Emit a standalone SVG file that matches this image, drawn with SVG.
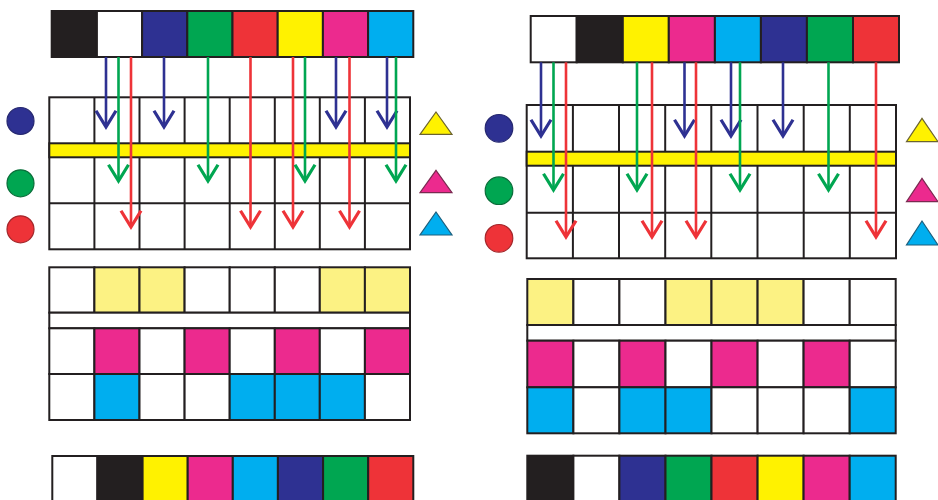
<svg xmlns="http://www.w3.org/2000/svg" width="938" height="500" viewBox="0 0 938 500">
<style>
rect,line.g{stroke:#231f20;stroke-width:2}
.k{fill:#231f20}.w{fill:#ffffff}.b{fill:#2e3192}.gr{fill:#00a651}.r{fill:#ee3338}.y{fill:#fff200}.m{fill:#ec2a8e}.c{fill:#00aeef}.ly{fill:#fcf283}
.ab{stroke:#2e3192}.ag{stroke:#00a651}.ar{stroke:#ee3338}
.arr line{stroke-width:2.6;fill:none}
</style>
<defs>
<marker id="mb" markerUnits="userSpaceOnUse" markerWidth="30" markerHeight="30" refX="0" refY="0" orient="auto" viewBox="-16 -12 20 24" overflow="visible"><path d="M-13,-8 L0,0 L-13,8" fill="none" stroke="#2e3192" stroke-width="2.6"/></marker>
<marker id="mg" markerUnits="userSpaceOnUse" markerWidth="30" markerHeight="30" refX="0" refY="0" orient="auto" viewBox="-16 -12 20 24" overflow="visible"><path d="M-13,-8 L0,0 L-13,8" fill="none" stroke="#00a651" stroke-width="2.6"/></marker>
<marker id="mr" markerUnits="userSpaceOnUse" markerWidth="30" markerHeight="30" refX="0" refY="0" orient="auto" viewBox="-16 -12 20 24" overflow="visible"><path d="M-13,-8 L0,0 L-13,8" fill="none" stroke="#ee3338" stroke-width="2.6"/></marker>
</defs>
<rect x="0" y="0" width="938" height="500" fill="#ffffff" style="stroke:none"/>

<!-- LEFT PANEL -->
<g id="left-top-strip">
<rect class="k" x="51.7" y="11" width="45.2" height="46"/>
<rect class="w" x="96.9" y="11" width="45.2" height="46"/>
<rect class="b" x="142.1" y="11" width="45.2" height="46"/>
<rect class="gr" x="187.3" y="11" width="45.2" height="46"/>
<rect class="r" x="232.5" y="11" width="45.2" height="46"/>
<rect class="y" x="277.7" y="11" width="45.2" height="46"/>
<rect class="m" x="322.9" y="11" width="45.2" height="46"/>
<rect class="c" x="368.1" y="11" width="45.2" height="46"/>
</g>
<g id="left-grid">
<rect class="w" x="49.3" y="97.3" width="360.7" height="152"/>
<rect class="y" x="49.3" y="143.3" width="360.7" height="14"/>
<line class="g" x1="49.3" y1="203.3" x2="410" y2="203.3"/>
<g>
<line class="g" x1="94.4" y1="97.3" x2="94.4" y2="143.3"/><line class="g" x1="139.5" y1="97.3" x2="139.5" y2="143.3"/><line class="g" x1="184.6" y1="97.3" x2="184.6" y2="143.3"/><line class="g" x1="229.7" y1="97.3" x2="229.7" y2="143.3"/><line class="g" x1="274.8" y1="97.3" x2="274.8" y2="143.3"/><line class="g" x1="319.8" y1="97.3" x2="319.8" y2="143.3"/><line class="g" x1="364.9" y1="97.3" x2="364.9" y2="143.3"/>
<line class="g" x1="94.4" y1="157.3" x2="94.4" y2="249.3"/><line class="g" x1="139.5" y1="157.3" x2="139.5" y2="249.3"/><line class="g" x1="184.6" y1="157.3" x2="184.6" y2="249.3"/><line class="g" x1="229.7" y1="157.3" x2="229.7" y2="249.3"/><line class="g" x1="274.8" y1="157.3" x2="274.8" y2="249.3"/><line class="g" x1="319.8" y1="157.3" x2="319.8" y2="249.3"/><line class="g" x1="364.9" y1="157.3" x2="364.9" y2="249.3"/>
</g>
</g>
<g id="left-circles">
<circle id="l-circle-blue" cx="20.5" cy="121" r="13.5" fill="#2e3192" stroke="#262870" stroke-width="1.2"/>
<circle id="l-circle-green" cx="20.5" cy="183.3" r="13.5" fill="#00a651" stroke="#0a6e3a" stroke-width="1.2"/>
<circle id="l-circle-red" cx="20.5" cy="229.3" r="13.5" fill="#ee3338" stroke="#a3262a" stroke-width="1.2"/>
</g>
<g id="left-triangles">
<polygon id="l-tri-yellow" points="436,112 452,134.3 420,134.3" fill="#fff200" stroke="#6b6330" stroke-width="1.2"/>
<polygon id="l-tri-magenta" points="436,170.3 452,192.7 420,192.7" fill="#ec2a8e" stroke="#7a2a50" stroke-width="1.2"/>
<polygon id="l-tri-cyan" points="436,212 452,235 420,235" fill="#00aeef" stroke="#1d5f7d" stroke-width="1.2"/>
</g>
<g id="left-middle-grid">
<rect class="w" x="49.3" y="267.3" width="45.1" height="45.4"/><rect class="ly" x="94.4" y="267.3" width="45.1" height="45.4"/><rect class="ly" x="139.5" y="267.3" width="45.1" height="45.4"/><rect class="w" x="184.6" y="267.3" width="45.1" height="45.4"/><rect class="w" x="229.7" y="267.3" width="45.1" height="45.4"/><rect class="w" x="274.8" y="267.3" width="45" height="45.4"/><rect class="ly" x="319.8" y="267.3" width="45.1" height="45.4"/><rect class="ly" x="364.9" y="267.3" width="45.1" height="45.4"/>
<rect class="w" x="49.3" y="312.7" width="360.7" height="15.6"/>
<rect class="w" x="49.3" y="328.3" width="45.1" height="45.7"/><rect class="m" x="94.4" y="328.3" width="45.1" height="45.7"/><rect class="w" x="139.5" y="328.3" width="45.1" height="45.7"/><rect class="m" x="184.6" y="328.3" width="45.1" height="45.7"/><rect class="w" x="229.7" y="328.3" width="45.1" height="45.7"/><rect class="m" x="274.8" y="328.3" width="45" height="45.7"/><rect class="w" x="319.8" y="328.3" width="45.1" height="45.7"/><rect class="m" x="364.9" y="328.3" width="45.1" height="45.7"/>
<rect class="w" x="49.3" y="374" width="45.1" height="46"/><rect class="c" x="94.4" y="374" width="45.1" height="46"/><rect class="w" x="139.5" y="374" width="45.1" height="46"/><rect class="w" x="184.6" y="374" width="45.1" height="46"/><rect class="c" x="229.7" y="374" width="45.1" height="46"/><rect class="c" x="274.8" y="374" width="45" height="46"/><rect class="c" x="319.8" y="374" width="45.1" height="46"/><rect class="w" x="364.9" y="374" width="45.1" height="46"/>
</g>
<g id="left-bottom-strip">
<rect class="w" x="52.3" y="456" width="45.1" height="50"/>
<rect class="k" x="97.4" y="456" width="45.2" height="50"/>
<rect class="y" x="142.6" y="456" width="45.1" height="50"/>
<rect class="m" x="187.7" y="456" width="45.1" height="50"/>
<rect class="c" x="232.8" y="456" width="45.1" height="50"/>
<rect class="b" x="277.9" y="456" width="45.2" height="50"/>
<rect class="gr" x="323.1" y="456" width="45.1" height="50"/>
<rect class="r" x="368.2" y="456" width="45.1" height="50"/>
</g>

<!-- RIGHT PANEL -->
<g id="right-top-strip">
<rect class="w" x="530.7" y="16" width="46" height="46.3"/>
<rect class="k" x="576.7" y="16" width="46.1" height="46.3"/>
<rect class="y" x="622.8" y="16" width="46" height="46.3"/>
<rect class="m" x="668.8" y="16" width="46.1" height="46.3"/>
<rect class="c" x="714.9" y="16" width="46" height="46.3"/>
<rect class="b" x="760.9" y="16" width="46" height="46.3"/>
<rect class="gr" x="806.9" y="16" width="46.1" height="46.3"/>
<rect class="r" x="853" y="16" width="46" height="46.3"/>
</g>
<g id="right-grid">
<rect class="w" x="526.7" y="105" width="369.3" height="153.3"/>
<rect class="y" x="526.7" y="151.7" width="369.3" height="14"/>
<line class="g" x1="526.7" y1="212.7" x2="896" y2="212.7"/>
<g>
<line class="g" x1="572.9" y1="105" x2="572.9" y2="151.7"/><line class="g" x1="619" y1="105" x2="619" y2="151.7"/><line class="g" x1="665.2" y1="105" x2="665.2" y2="151.7"/><line class="g" x1="711.3" y1="105" x2="711.3" y2="151.7"/><line class="g" x1="757.5" y1="105" x2="757.5" y2="151.7"/><line class="g" x1="803.7" y1="105" x2="803.7" y2="151.7"/><line class="g" x1="849.8" y1="105" x2="849.8" y2="151.7"/>
<line class="g" x1="572.9" y1="165.7" x2="572.9" y2="258.3"/><line class="g" x1="619" y1="165.7" x2="619" y2="258.3"/><line class="g" x1="665.2" y1="165.7" x2="665.2" y2="258.3"/><line class="g" x1="711.3" y1="165.7" x2="711.3" y2="258.3"/><line class="g" x1="757.5" y1="165.7" x2="757.5" y2="258.3"/><line class="g" x1="803.7" y1="165.7" x2="803.7" y2="258.3"/><line class="g" x1="849.8" y1="165.7" x2="849.8" y2="258.3"/>
</g>
</g>
<g id="right-circles">
<circle id="r-circle-blue" cx="499" cy="128.3" r="13.8" fill="#2e3192" stroke="#262870" stroke-width="1.2"/>
<circle id="r-circle-green" cx="499" cy="190.7" r="13.8" fill="#00a651" stroke="#0a6e3a" stroke-width="1.2"/>
<circle id="r-circle-red" cx="499" cy="238.3" r="13.8" fill="#ee3338" stroke="#a3262a" stroke-width="1.2"/>
</g>
<g id="right-triangles">
<polygon id="r-tri-yellow" points="922,118.3 938,141.7 906.5,141.7" fill="#fff200" stroke="#6b6330" stroke-width="1.2"/>
<polygon id="r-tri-magenta" points="922,178.3 938,201.7 906.5,201.7" fill="#ec2a8e" stroke="#7a2a50" stroke-width="1.2"/>
<polygon id="r-tri-cyan" points="922,221 938,245 906.5,245" fill="#00aeef" stroke="#1d5f7d" stroke-width="1.2"/>
</g>
<g id="right-middle-grid">
<rect class="ly" x="527.3" y="279" width="46.1" height="46"/><rect class="w" x="573.4" y="279" width="46" height="46"/><rect class="w" x="619.4" y="279" width="46.1" height="46"/><rect class="ly" x="665.5" y="279" width="46" height="46"/><rect class="ly" x="711.5" y="279" width="46.1" height="46"/><rect class="ly" x="757.6" y="279" width="46" height="46"/><rect class="w" x="803.6" y="279" width="46.1" height="46"/><rect class="w" x="849.7" y="279" width="46" height="46"/>
<rect class="w" x="527.3" y="325" width="368.4" height="15.7"/>
<rect class="m" x="527.3" y="340.7" width="46.1" height="46.6"/><rect class="w" x="573.4" y="340.7" width="46" height="46.6"/><rect class="m" x="619.4" y="340.7" width="46.1" height="46.6"/><rect class="w" x="665.5" y="340.7" width="46" height="46.6"/><rect class="m" x="711.5" y="340.7" width="46.1" height="46.6"/><rect class="w" x="757.6" y="340.7" width="46" height="46.6"/><rect class="m" x="803.6" y="340.7" width="46.1" height="46.6"/><rect class="w" x="849.7" y="340.7" width="46" height="46.6"/>
<rect class="c" x="527.3" y="387.3" width="46.1" height="46"/><rect class="w" x="573.4" y="387.3" width="46" height="46"/><rect class="c" x="619.4" y="387.3" width="46.1" height="46"/><rect class="c" x="665.5" y="387.3" width="46" height="46"/><rect class="w" x="711.5" y="387.3" width="46.1" height="46"/><rect class="w" x="757.6" y="387.3" width="46" height="46"/><rect class="w" x="803.6" y="387.3" width="46.1" height="46"/><rect class="c" x="849.7" y="387.3" width="46" height="46"/>
</g>
<g id="right-bottom-strip">
<rect class="k" x="527.3" y="455.7" width="46.1" height="50"/>
<rect class="w" x="573.4" y="455.7" width="46" height="50"/>
<rect class="b" x="619.4" y="455.7" width="46.1" height="50"/>
<rect class="gr" x="665.5" y="455.7" width="46" height="50"/>
<rect class="r" x="711.5" y="455.7" width="46.1" height="50"/>
<rect class="y" x="757.6" y="455.7" width="46" height="50"/>
<rect class="m" x="803.6" y="455.7" width="46.1" height="50"/>
<rect class="c" x="849.7" y="455.7" width="46" height="50"/>
</g>

<!-- CONNECTORS -->
<g id="connectors" class="arr">
<line class="ab" x1="106" y1="57" x2="106" y2="127" marker-end="url(#mb)"/>
<line class="ag" x1="118.5" y1="57" x2="118.5" y2="181" marker-end="url(#mg)"/>
<line class="ar" x1="131" y1="57" x2="131" y2="227" marker-end="url(#mr)"/>
<line class="ab" x1="164" y1="57" x2="164" y2="127" marker-end="url(#mb)"/>
<line class="ag" x1="208" y1="57" x2="208" y2="181" marker-end="url(#mg)"/>
<line class="ar" x1="250.5" y1="57" x2="250.5" y2="227" marker-end="url(#mr)"/>
<line class="ar" x1="293" y1="57" x2="293" y2="227" marker-end="url(#mr)"/>
<line class="ag" x1="305" y1="57" x2="305" y2="181" marker-end="url(#mg)"/>
<line class="ab" x1="336" y1="57" x2="336" y2="127" marker-end="url(#mb)"/>
<line class="ar" x1="349.5" y1="57" x2="349.5" y2="227" marker-end="url(#mr)"/>
<line class="ab" x1="387" y1="57" x2="387" y2="127" marker-end="url(#mb)"/>
<line class="ag" x1="396" y1="57" x2="396" y2="181" marker-end="url(#mg)"/>

<line class="ab" x1="541" y1="62.3" x2="541" y2="136" marker-end="url(#mb)"/>
<line class="ag" x1="553.5" y1="62.3" x2="553.5" y2="190" marker-end="url(#mg)"/>
<line class="ar" x1="566" y1="62.3" x2="566" y2="237" marker-end="url(#mr)"/>
<line class="ag" x1="637" y1="62.3" x2="637" y2="190" marker-end="url(#mg)"/>
<line class="ar" x1="652" y1="62.3" x2="652" y2="237" marker-end="url(#mr)"/>
<line class="ab" x1="684.5" y1="62.3" x2="684.5" y2="136" marker-end="url(#mb)"/>
<line class="ar" x1="696" y1="62.3" x2="696" y2="237" marker-end="url(#mr)"/>
<line class="ab" x1="731" y1="62.3" x2="731" y2="136" marker-end="url(#mb)"/>
<line class="ag" x1="740" y1="62.3" x2="740" y2="190" marker-end="url(#mg)"/>
<line class="ab" x1="783" y1="62.3" x2="783" y2="136" marker-end="url(#mb)"/>
<line class="ag" x1="828.5" y1="62.3" x2="828.5" y2="190" marker-end="url(#mg)"/>
<line class="ar" x1="876" y1="62.3" x2="876" y2="237" marker-end="url(#mr)"/>
</g>
</svg>
